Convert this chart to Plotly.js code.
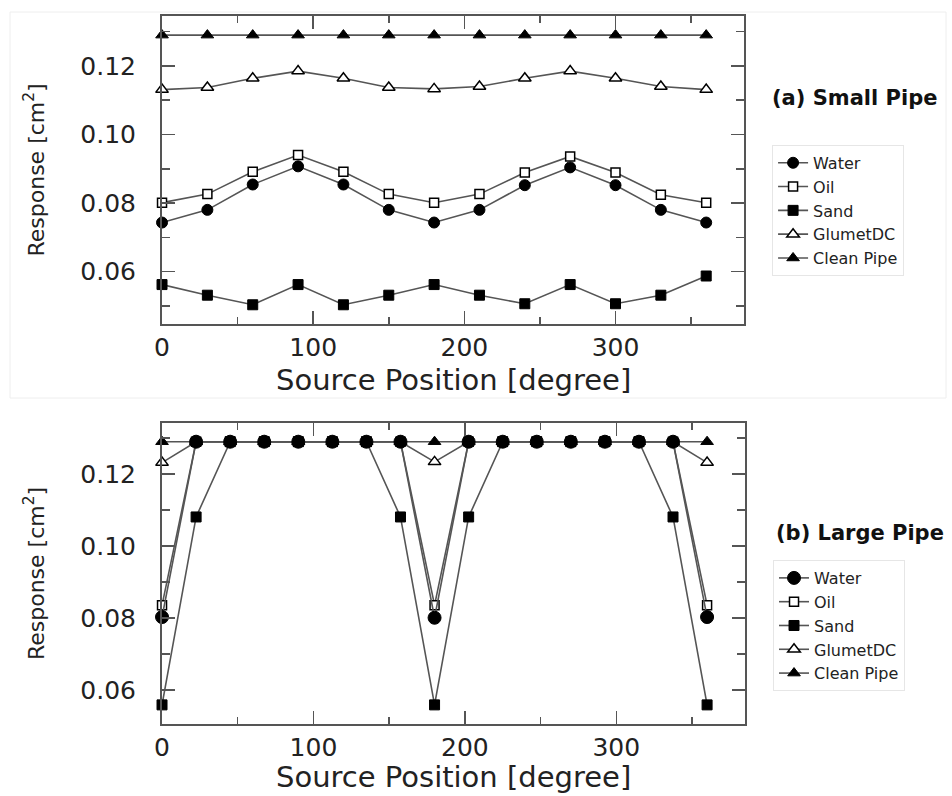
<!DOCTYPE html>
<html>
<head>
<meta charset="utf-8">
<script src="https://cdn.plot.ly/plotly-3.0.1.min.js"></script>
<style>html,body{margin:0;padding:0;background:#fff;}#chart{width:952px;height:796px;}</style>
</head>
<body>
<div id="chart"></div>
<script>
// ---- Data: (a) Small Pipe ----
const seriesNames = ['Water', 'Oil', 'Sand', 'GlumetDC', 'Clean Pipe'];
const xSmall = [0, 30, 60, 90, 120, 150, 180, 210, 240, 270, 300, 330, 360];
const waterSmall = [0.0743, 0.0780, 0.0854, 0.0907, 0.0854, 0.0780, 0.0743, 0.0780, 0.0852, 0.0904, 0.0852, 0.0780, 0.0743];
const oilSmall = [0.0801, 0.0826, 0.0891, 0.0940, 0.0891, 0.0826, 0.0801, 0.0826, 0.0889, 0.0936, 0.0889, 0.0824, 0.0801];
const sandSmall = [0.0562, 0.0531, 0.0503, 0.0562, 0.0503, 0.0531, 0.0562, 0.0531, 0.0506, 0.0562, 0.0506, 0.0531, 0.0587];
const glumetSmall = [0.1131, 0.1137, 0.1164, 0.1185, 0.1164, 0.1137, 0.1133, 0.1140, 0.1164, 0.1185, 0.1164, 0.1140, 0.1131];
const cleanSmall = [0.129, 0.129, 0.129, 0.129, 0.129, 0.129, 0.129, 0.129, 0.129, 0.129, 0.129, 0.129, 0.129];

// ---- Data: (b) Large Pipe ----
const xLarge = [0, 22.5, 45, 67.5, 90, 112.5, 135, 157.5, 180, 202.5, 225, 247.5, 270, 292.5, 315, 337.5, 360];
const waterLarge = [0.0803, 0.129, 0.129, 0.129, 0.129, 0.129, 0.129, 0.129, 0.0801, 0.129, 0.129, 0.129, 0.129, 0.129, 0.129, 0.129, 0.0803];
const oilLarge = [0.0836, 0.129, 0.129, 0.129, 0.129, 0.129, 0.129, 0.129, 0.0836, 0.129, 0.129, 0.129, 0.129, 0.129, 0.129, 0.129, 0.0836];
const sandLarge = [0.0559, 0.1081, 0.129, 0.129, 0.129, 0.129, 0.129, 0.1081, 0.0559, 0.1081, 0.129, 0.129, 0.129, 0.129, 0.129, 0.1081, 0.0559];
const glumetLarge = [0.1232, 0.129, 0.129, 0.129, 0.129, 0.129, 0.129, 0.129, 0.1234, 0.129, 0.129, 0.129, 0.129, 0.129, 0.129, 0.129, 0.1232];
const cleanLarge = [0.129, 0.129, 0.129, 0.129, 0.129, 0.129, 0.129, 0.129, 0.129, 0.129, 0.129, 0.129, 0.129, 0.129, 0.129, 0.129, 0.129];

const xTitle = 'Source Position [degree]';
const yTitle = 'Response [cm<sup>2</sup>]';
const panelTitles = ['(a) Small Pipe', '(b) Large Pipe'];

// ---- Styles ----
const LINE = '#555555';
const FONT = 'DejaVu Sans, Arial, sans-serif';
const markerStyles = {
  'Water':      {symbol: 'circle', size: 11, color: '#000', line: {color: '#000', width: 1}},
  'Oil':        {symbol: 'square', size: 9, color: '#fff', line: {color: '#000', width: 1.5}},
  'Sand':       {symbol: 'square', size: 10, color: '#000', line: {color: '#000', width: 1}},
  'GlumetDC':   {symbol: 'triangle-up', size: 11, color: '#fff', line: {color: '#000', width: 1.5}},
  'Clean Pipe': {symbol: 'triangle-up', size: 11, color: '#000', line: {color: '#000', width: 1}}
};

function mk(name, x, y, xa, ya, leg, big) {
  const m = Object.assign({}, markerStyles[name]);
  if (big && name === 'Water') m.size = 13;
  return {
    type: 'scatter', mode: 'lines+markers', name: name, x: x, y: y,
    xaxis: xa, yaxis: ya, legend: leg, cliponaxis: false,
    line: {color: LINE, width: 1.6},
    marker: m
  };
}

const small = {Water: waterSmall, Oil: oilSmall, Sand: sandSmall, GlumetDC: glumetSmall, 'Clean Pipe': cleanSmall};
const large = {Water: waterLarge, Oil: oilLarge, Sand: sandLarge, GlumetDC: glumetLarge, 'Clean Pipe': cleanLarge};

const traces = [];
// draw in reverse order so Water sits on top; legend reversed back to Water-first
seriesNames.slice().reverse().forEach(n => traces.push(mk(n, xSmall, small[n], 'x', 'y', 'legend', false)));
seriesNames.slice().reverse().forEach(n => traces.push(mk(n, xLarge, large[n], 'x2', 'y2', 'legend2', true)));

const tickFont = {family: FONT, size: 25, color: '#222'};
function xax(domain, anchor) {
  return {
    domain: domain, anchor: anchor, range: [0, 385], dtick: 100, tick0: 0,
    showline: true, linecolor: LINE, linewidth: 2, mirror: 'allticks',
    ticks: 'inside', ticklen: 13, tickwidth: 1.5, tickcolor: LINE,
    showgrid: false, zeroline: false, tickfont: tickFont, ticklabelstandoff: 0,
    minor: {ticks: 'inside', ticklen: 7, tickwidth: 1.5, tickcolor: LINE, dtick: 50, showgrid: false}
  };
}
function yax(domain, anchor, range) {
  return {
    domain: domain, anchor: anchor, range: range, dtick: 0.02, tick0: 0, tickformat: '.2f',
    showline: true, linecolor: LINE, linewidth: 2, mirror: 'allticks',
    ticks: 'inside', ticklen: 13, tickwidth: 1.5, tickcolor: LINE,
    showgrid: false, zeroline: false, tickfont: tickFont, ticklabelstandoff: 19,
    minor: {ticks: 'inside', ticklen: 8, tickwidth: 1.5, tickcolor: LINE, dtick: 0.01, showgrid: false},
    title: {text: yTitle, font: {family: FONT, size: 22, color: '#222'}, standoff: 30}
  };
}
const legFont = {family: FONT, size: 16, color: '#222'};
const layout = {
  width: 952, height: 796,
  margin: {l: 0, r: 0, t: 0, b: 0},
  paper_bgcolor: '#fff', plot_bgcolor: '#fff',
  showlegend: true,
  xaxis: xax([0.1702, 0.7815], 'y'),
  yaxis: yax([0.593, 0.980], 'x', [0.0447, 0.1346]),
  xaxis2: xax([0.1702, 0.7825], 'y2'),
  yaxis2: yax([0.0905, 0.4686], 'x2', [0.0506, 0.1342]),
  legend: {x: 0.811, y: 0.818, xanchor: 'left', yanchor: 'top', traceorder: 'reversed',
    bgcolor: '#fff', bordercolor: '#e6e6e6', borderwidth: 1, font: legFont, tracegroupgap: 0},
  legend2: {x: 0.812, y: 0.2965, xanchor: 'left', yanchor: 'top', traceorder: 'reversed',
    bgcolor: '#fff', bordercolor: '#e6e6e6', borderwidth: 1, font: legFont, tracegroupgap: 0},
  annotations: [
    {text: xTitle, xref: 'paper', yref: 'paper', x: 453 / 952, y: 1 - 380 / 796,
      xanchor: 'center', yanchor: 'middle', showarrow: false,
      font: {family: FONT, size: 29, color: '#222'}},
    {text: xTitle, xref: 'paper', yref: 'paper', x: 453 / 952, y: 1 - 777 / 796,
      xanchor: 'center', yanchor: 'middle', showarrow: false,
      font: {family: FONT, size: 29, color: '#222'}},
    {text: '<b>' + panelTitles[0] + '</b>', xref: 'paper', yref: 'paper', x: 0.898, y: 0.877,
      xanchor: 'center', yanchor: 'middle', showarrow: false,
      font: {family: FONT, size: 21, color: '#111'}},
    {text: '<b>' + panelTitles[1] + '</b>', xref: 'paper', yref: 'paper', x: 0.903, y: 0.330,
      xanchor: 'center', yanchor: 'middle', showarrow: false,
      font: {family: FONT, size: 21, color: '#111'}}
  ],
  shapes: [
    {type: 'rect', xref: 'paper', yref: 'paper', x0: 10/952, x1: 946/952, y0: 1 - 398/796, y1: 1 - 12/796,
      line: {color: '#eeeeee', width: 1}, layer: 'below'}
  ]
};
Plotly.newPlot('chart', traces, layout, {displayModeBar: false, staticPlot: true});
</script>
</body>
</html>
